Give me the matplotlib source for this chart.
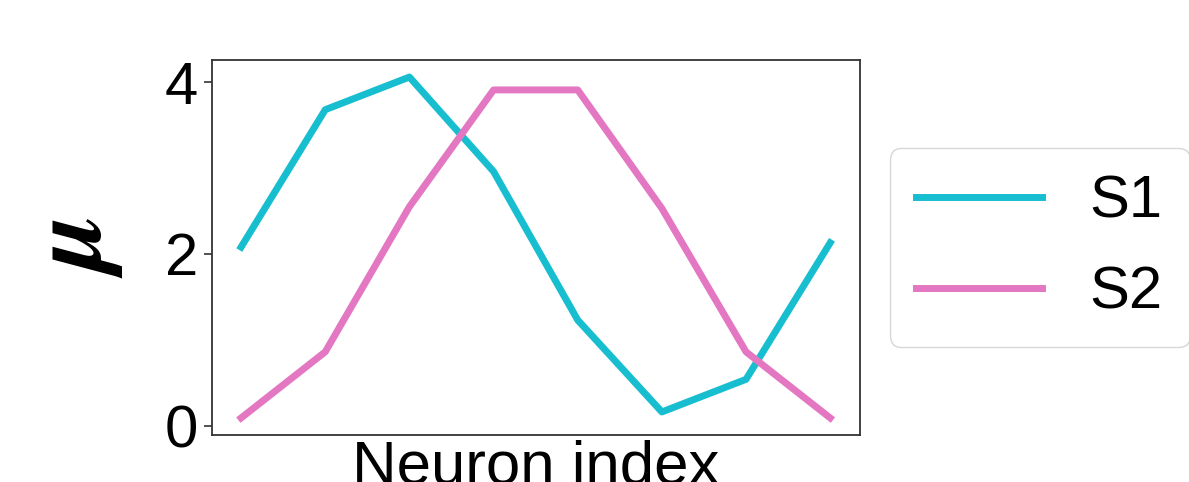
import matplotlib.pyplot as plt

plt.rcParams['font.family'] = ['Liberation Sans', 'DejaVu Sans']
plt.rcParams['mathtext.fontset'] = 'cm'

# mean activity per neuron for the two stimuli
neuron = [0, 1, 2, 3, 4, 5, 6, 7]
mu_s1 = [2.08, 3.68, 4.06, 2.96, 1.23, 0.16, 0.54, 2.13]
mu_s2 = [0.09, 0.86, 2.55, 3.91, 3.91, 2.53, 0.86, 0.09]

fig = plt.figure(figsize=(11.89, 4.82), dpi=100)
ax = fig.add_axes([0.178, 0.0975, 0.545, 0.778])

ax.plot(neuron, mu_s1, color='tab:cyan', lw=5, label='S1')
ax.plot(neuron, mu_s2, color='tab:pink', lw=5, label='S2')

ax.set_xticks([])
ax.set_yticks([0, 2, 4])
ax.tick_params(axis='y', labelsize=43, length=6, width=1.2, color='#333333', pad=4)
for s in ax.spines.values():
    s.set_linewidth(1.3)
    s.set_color('#333333')

ax.set_xlabel('Neuron index', fontsize=44.5, labelpad=3)
ax.set_ylabel(r'$\boldsymbol{\mu}$', fontsize=76, labelpad=28)

leg = ax.legend(loc='center left', bbox_to_anchor=(1.0, 0.5), fontsize=43,
                handlelength=2.1, frameon=True, fancybox=True, borderpad=0.45,
                labelspacing=0.6)
leg.get_frame().set_edgecolor('#cccccc')

fig.savefig('out.png', dpi=100)
